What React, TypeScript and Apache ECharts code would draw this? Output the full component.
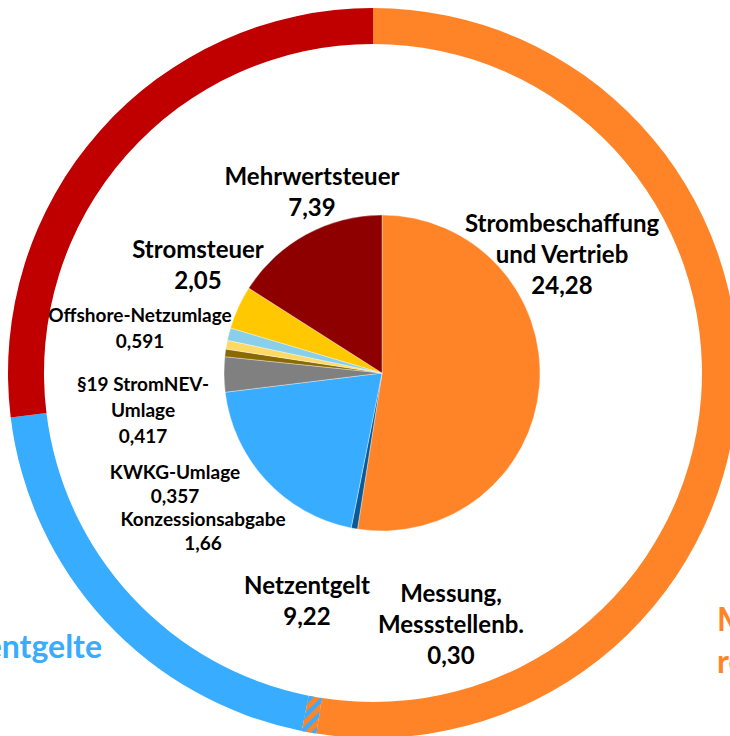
import React, { useEffect, useRef } from "react";
import * as echarts from "echarts";

// Inner pie: price components (ct/kWh), clockwise from 12 o'clock
const categories = [
  "Strombeschaffung\nund Vertrieb",
  "Messung,\nMessstellenb.",
  "Netzentgelt",
  "Konzessionsabgabe",
  "KWKG-Umlage",
  "§19 StromNEV-\nUmlage",
  "Offshore-Netzumlage",
  "Stromsteuer",
  "Mehrwertsteuer",
];
const values = [24.28, 0.3, 9.22, 1.66, 0.357, 0.417, 0.591, 2.05, 7.39];
// Outer ring groups and membership of each component
const groups = ["Markt-\nrelevant", "Messung", "Netzentgelte", "Steuern, Abgaben und Umlagen"];
const groupOf = [0, 1, 2, 3, 3, 3, 3, 3, 3];

const sliceColors = [
  "#FF8427", "#0A5A98", "#38ACFF", "#808080", "#8A6A00",
  "#FFD966", "#89CFEA", "#FFC800", "#8E0000",
];
const groupColors = ["#FF8427", "#FF8427", "#38ACFF", "#C00000"];

// label anchor positions (px) and sizes
const labelPos: number[][] = [
  [562, 253], [451, 623], [307, 600], [203, 530], [175, 483],
  [143, 409], [140, 327], [198, 264], [312, 191],
];
const bigLabel = [true, true, true, false, false, false, false, true, true];
const smallLineHeight = [0, 0, 0, 24, 24, 26, 26, 0, 0];
const groupLabelPos: (number[] | null)[] = [[717, 639], null, [102, 645], null];
const groupLabelAlign = ["left", "left", "right", "left"];

function fmt(v: number): string {
  const s = String(v);
  const dec = s.includes(".") ? s.split(".")[1].length : 0;
  return v.toFixed(Math.max(2, dec)).replace(".", ",");
}

export default function App() {
  const ref = useRef<HTMLDivElement>(null);
  useEffect(() => {
    if (!ref.current) return;
    const chart = echarts.init(ref.current, undefined, { renderer: "svg" });
    const groupSums = groups.map((_, g) =>
      values.reduce((acc, v, i) => (groupOf[i] === g ? acc + v : acc), 0)
    );
    const font = "Lato, 'Noto Sans', sans-serif";
    chart.setOption({
      animation: false,
      backgroundColor: "#ffffff",
      series: [
        {
          type: "pie",
          name: "ring",
          center: [373, 373],
          radius: [329, 365],
          startAngle: 90,
          clockwise: true,
          silent: true,
          avoidLabelOverlap: false,
          labelLine: { show: false },
          label: {
            show: true,
            position: "outside",
            formatter: "{b}",
            fontFamily: font,
            fontWeight: "bold",
            fontSize: 32,
            lineHeight: 42,
          },
          labelLayout: (p: any) => {
            const pos = groupLabelPos[p.dataIndex];
            if (!pos) return { x: -2000, y: -2000 };
            return { x: pos[0], y: pos[1], align: groupLabelAlign[p.dataIndex], verticalAlign: "middle" };
          },
          data: groups.map((name, g) => ({
            name,
            value: groupSums[g],
            label: { show: groupLabelPos[g] !== null, color: groupColors[g] },
            itemStyle:
              g === 1
                ? {
                    color: "#FF8427",
                    decal: {
                      symbol: "rect",
                      color: "#38ACFF",
                      dashArrayX: [1, 0],
                      dashArrayY: [4, 5],
                      rotation: -Math.PI / 4,
                      symbolSize: 1,
                    },
                  }
                : { color: groupColors[g] },
          })),
        },
        {
          type: "pie",
          name: "components",
          center: [382, 373],
          radius: [0, 158],
          startAngle: 90,
          clockwise: true,
          silent: true,
          avoidLabelOverlap: false,
          labelLine: { show: false },
          itemStyle: { borderColor: "rgba(255,255,255,0.6)", borderWidth: 0.6 },
          label: {
            show: true,
            position: "outside",
            color: "#000000",
            fontFamily: font,
            fontWeight: "bold",
            formatter: (p: any) => `${p.name}\n${fmt(p.value)}`,
          },
          labelLayout: (p: any) => ({
            x: labelPos[p.dataIndex][0],
            y: labelPos[p.dataIndex][1],
            align: "center",
            verticalAlign: "middle",
          }),
          data: categories.map((name, i) => ({
            name,
            value: values[i],
            itemStyle: { color: sliceColors[i] },
            label: bigLabel[i]
              ? { fontSize: 24, lineHeight: 31 }
              : { fontSize: 19, lineHeight: smallLineHeight[i] },
          })),
        },
      ],
    });
    return () => chart.dispose();
  }, []);
  return (
    <div
      ref={ref}
      style={{ position: "absolute", left: 0, top: 0, width: 730, height: 736 }}
    />
  );
}
